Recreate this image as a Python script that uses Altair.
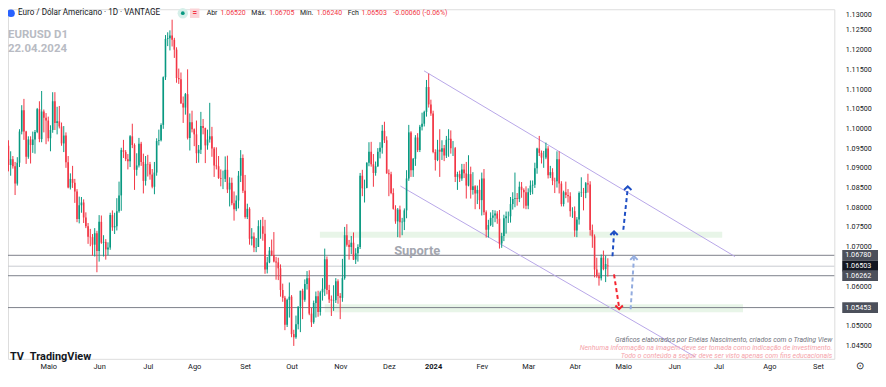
import json
import pandas as pd
import altair as alt

# ---------------- data: daily EURUSD candles (open, high, low, close) ----------------
apr23 = [(1.0839, 1.0917, 1.0788, 1.0903), (1.0903, 1.0973, 1.0896, 1.0956), (1.0956, 1.0970, 1.0891, 1.0907),
         (1.0907, 1.0942, 1.0880, 1.0922), (1.0922, 1.0930, 1.0898, 1.0904), (1.0904, 1.0915, 1.0831, 1.0860),
         (1.0860, 1.0927, 1.0855, 1.0913), (1.0913, 1.0998, 1.0902, 1.0992), (1.0992, 1.1059, 1.0985, 1.1046),
         (1.1046, 1.1075, 1.0971, 1.0992), (1.0992, 1.0994, 1.0910, 1.0928), (1.0928, 1.0980, 1.0923, 1.0972),
         (1.0972, 1.0980, 1.0911, 1.0958), (1.0958, 1.0992, 1.0938, 1.0972), (1.0972, 1.0996, 1.0936, 1.0991),
         (1.0991, 1.1052, 1.0988, 1.1049), (1.1049, 1.1069, 1.0965, 1.0973), (1.0973, 1.1095, 1.0965, 1.1043),
         (1.1043, 1.1048, 1.0990, 1.1027), (1.1027, 1.1039, 1.0960, 1.1020)]
may23 = [(1.1020, 1.1030, 1.0967, 1.0975), (1.0975, 1.1008, 1.0942, 1.0996), (1.0996, 1.1092, 1.0989, 1.1069),
         (1.1069, 1.1092, 1.0996, 1.1014), (1.1014, 1.1055, 1.0985, 1.1018), (1.1018, 1.1057, 1.1000, 1.1005),
         (1.1005, 1.1015, 1.0956, 1.0962), (1.0962, 1.1006, 1.0940, 1.0982), (1.0982, 1.0990, 1.0900, 1.0914),
         (1.0914, 1.0930, 1.0848, 1.0850), (1.0850, 1.0886, 1.0845, 1.0872), (1.0872, 1.0905, 1.0849, 1.0862),
         (1.0862, 1.0872, 1.0811, 1.0840), (1.0840, 1.0846, 1.0762, 1.0770), (1.0770, 1.0827, 1.0759, 1.0805),
         (1.0805, 1.0826, 1.0786, 1.0812), (1.0812, 1.0820, 1.0760, 1.0774), (1.0774, 1.0787, 1.0747, 1.0752),
         (1.0752, 1.0760, 1.0707, 1.0725), (1.0725, 1.0745, 1.0701, 1.0724), (1.0724, 1.0732, 1.0677, 1.0705),
         (1.0705, 1.0747, 1.0675, 1.0734), (1.0734, 1.0740, 1.0635, 1.0689)]
jun23 = [(1.0689, 1.0780, 1.0662, 1.0763), (1.0763, 1.0779, 1.0707, 1.0710), (1.0710, 1.0729, 1.0675, 1.0712),
         (1.0712, 1.0719, 1.0667, 1.0693), (1.0693, 1.0711, 1.0678, 1.0698), (1.0698, 1.0786, 1.0692, 1.0780),
         (1.0780, 1.0792, 1.0740, 1.0749), (1.0749, 1.0786, 1.0732, 1.0752), (1.0752, 1.0823, 1.0741, 1.0790),
         (1.0790, 1.0865, 1.0786, 1.0830), (1.0830, 1.0951, 1.0791, 1.0945), (1.0945, 1.0971, 1.0925, 1.0940),
         (1.0940, 1.0945, 1.0917, 1.0922), (1.0922, 1.0935, 1.0896, 1.0917), (1.0917, 1.0983, 1.0902, 1.0980),
         (1.0980, 1.1012, 1.0950, 1.0958), (1.0958, 1.0962, 1.0844, 1.0895), (1.0895, 1.0937, 1.0880, 1.0906),
         (1.0906, 1.0976, 1.0901, 1.0961), (1.0961, 1.0966, 1.0905, 1.0915), (1.0915, 1.0936, 1.0835, 1.0867),
         (1.0867, 1.0930, 1.0855, 1.0910)]
jul23 = [(1.0910, 1.0933, 1.0878, 1.0909), (1.0909, 1.0915, 1.0870, 1.0883), (1.0883, 1.0897, 1.0848, 1.0852),
         (1.0852, 1.0915, 1.0833, 1.0888), (1.0888, 1.0975, 1.0880, 1.0968), (1.0968, 1.0997, 1.0957, 1.0970),
         (1.0970, 1.1013, 1.0967, 1.1009), (1.1009, 1.1132, 1.0999, 1.1130), (1.1130, 1.1237, 1.1123, 1.1227),
         (1.1227, 1.1244, 1.1209, 1.1229), (1.1229, 1.1249, 1.1198, 1.1236), (1.1236, 1.1276, 1.1208, 1.1225),
         (1.1225, 1.1230, 1.1179, 1.1200), (1.1200, 1.1206, 1.1116, 1.1128), (1.1128, 1.1152, 1.1113, 1.1125),
         (1.1125, 1.1142, 1.1062, 1.1064), (1.1064, 1.1081, 1.1014, 1.1053), (1.1053, 1.1090, 1.1035, 1.1087),
         (1.1087, 1.1150, 1.0972, 1.0976), (1.0976, 1.1038, 1.0944, 1.1016), (1.1016, 1.1045, 1.0990, 1.0998)]
aug23 = [(1.0998, 1.1000, 1.0955, 1.0985), (1.0985, 1.1020, 1.0912, 1.0937), (1.0937, 1.0958, 1.0913, 1.0946),
         (1.0946, 1.1042, 1.0935, 1.1006), (1.1006, 1.1024, 1.0985, 1.1001), (1.1001, 1.1002, 1.0912, 1.0957),
         (1.0957, 1.0997, 1.0946, 1.0972), (1.0972, 1.1065, 1.0964, 1.0980), (1.0980, 1.1004, 1.0928, 1.0949),
         (1.0949, 1.0953, 1.0877, 1.0906), (1.0906, 1.0952, 1.0896, 1.0904), (1.0904, 1.0930, 1.0872, 1.0874),
         (1.0874, 1.0896, 1.0853, 1.0872), (1.0872, 1.0893, 1.0846, 1.0872), (1.0872, 1.0929, 1.0864, 1.0895),
         (1.0895, 1.0931, 1.0836, 1.0845), (1.0845, 1.0876, 1.0802, 1.0862), (1.0862, 1.0875, 1.0805, 1.0810),
         (1.0810, 1.0840, 1.0766, 1.0795), (1.0795, 1.0830, 1.0790, 1.0817), (1.0817, 1.0892, 1.0797, 1.0880),
         (1.0880, 1.0945, 1.0864, 1.0925), (1.0925, 1.0934, 1.0836, 1.0842)]
sep23 = [(1.0842, 1.0882, 1.0771, 1.0775), (1.0775, 1.0809, 1.0770, 1.0796), (1.0796, 1.0800, 1.0705, 1.0720),
         (1.0720, 1.0747, 1.0703, 1.0726), (1.0726, 1.0736, 1.0686, 1.0698), (1.0698, 1.0722, 1.0686, 1.0699),
         (1.0699, 1.0767, 1.0699, 1.0752), (1.0752, 1.0768, 1.0720, 1.0752), (1.0752, 1.0775, 1.0715, 1.0733),
         (1.0733, 1.0768, 1.0631, 1.0642), (1.0642, 1.0674, 1.0632, 1.0660), (1.0660, 1.0699, 1.0658, 1.0690),
         (1.0690, 1.0718, 1.0676, 1.0679), (1.0679, 1.0737, 1.0660, 1.0662), (1.0662, 1.0674, 1.0616, 1.0660),
         (1.0660, 1.0672, 1.0615, 1.0645), (1.0645, 1.0655, 1.0573, 1.0590), (1.0590, 1.0606, 1.0560, 1.0570),
         (1.0570, 1.0575, 1.0488, 1.0502), (1.0502, 1.0568, 1.0496, 1.0565), (1.0565, 1.0609, 1.0520, 1.0573)]
oct23 = [(1.0573, 1.0577, 1.0470, 1.0478), (1.0478, 1.0489, 1.0448, 1.0470), (1.0470, 1.0525, 1.0466, 1.0503),
         (1.0503, 1.0548, 1.0490, 1.0548), (1.0548, 1.0588, 1.0483, 1.0588), (1.0588, 1.0593, 1.0516, 1.0565),
         (1.0565, 1.0617, 1.0560, 1.0605), (1.0605, 1.0638, 1.0591, 1.0620), (1.0620, 1.0640, 1.0526, 1.0530),
         (1.0530, 1.0545, 1.0496, 1.0508), (1.0508, 1.0563, 1.0504, 1.0557), (1.0557, 1.0586, 1.0520, 1.0574),
         (1.0574, 1.0588, 1.0522, 1.0534), (1.0534, 1.0588, 1.0525, 1.0584), (1.0584, 1.0620, 1.0563, 1.0593),
         (1.0593, 1.0695, 1.0575, 1.0668), (1.0668, 1.0675, 1.0579, 1.0590), (1.0590, 1.0603, 1.0557, 1.0566),
         (1.0566, 1.0576, 1.0524, 1.0563), (1.0563, 1.0602, 1.0537, 1.0564), (1.0564, 1.0620, 1.0557, 1.0612),
         (1.0612, 1.0617, 1.0555, 1.0575)]
nov23 = [(1.0575, 1.0582, 1.0516, 1.0570), (1.0570, 1.0669, 1.0560, 1.0620), (1.0620, 1.0750, 1.0616, 1.0729),
         (1.0729, 1.0757, 1.0700, 1.0705), (1.0705, 1.0717, 1.0667, 1.0699), (1.0699, 1.0727, 1.0681, 1.0710),
         (1.0710, 1.0736, 1.0666, 1.0667), (1.0667, 1.0696, 1.0656, 1.0683), (1.0683, 1.0706, 1.0662, 1.0699),
         (1.0699, 1.0887, 1.0694, 1.0880), (1.0880, 1.0895, 1.0828, 1.0848), (1.0848, 1.0870, 1.0812, 1.0849),
         (1.0849, 1.0914, 1.0848, 1.0913), (1.0913, 1.0965, 1.0904, 1.0941), (1.0941, 1.0966, 1.0903, 1.0909),
         (1.0909, 1.0935, 1.0852, 1.0887), (1.0887, 1.0916, 1.0880, 1.0904), (1.0904, 1.0950, 1.0902, 1.0941),
         (1.0941, 1.0965, 1.0924, 1.0951), (1.0951, 1.1009, 1.0936, 1.0994), (1.0994, 1.1017, 1.0963, 1.0970),
         (1.0970, 1.0980, 1.0885, 1.0886)]
dec23 = [(1.0886, 1.0896, 1.0828, 1.0884), (1.0884, 1.0890, 1.0833, 1.0836), (1.0836, 1.0848, 1.0794, 1.0796),
         (1.0796, 1.0805, 1.0758, 1.0764), (1.0764, 1.0798, 1.0724, 1.0794), (1.0794, 1.0804, 1.0723, 1.0762),
         (1.0762, 1.0773, 1.0729, 1.0763), (1.0763, 1.0797, 1.0742, 1.0792), (1.0792, 1.0894, 1.0772, 1.0873),
         (1.0873, 1.1009, 1.0867, 1.0990), (1.0990, 1.0993, 1.0877, 1.0894), (1.0894, 1.0925, 1.0877, 1.0923),
         (1.0923, 1.0983, 1.0905, 1.0977), (1.0977, 1.0988, 1.0940, 1.0945), (1.0945, 1.1009, 1.0940, 1.1004),
         (1.1004, 1.1040, 1.0995, 1.1012), (1.1012, 1.1045, 1.1005, 1.1042), (1.1042, 1.1123, 1.1030, 1.1105),
         (1.1105, 1.1139, 1.1053, 1.1061), (1.1061, 1.1073, 1.1032, 1.1038)]
jan24 = [(1.1038, 1.1045, 1.0937, 1.0940), (1.0940, 1.0947, 1.0893, 1.0920), (1.0920, 1.0971, 1.0917, 1.0946),
         (1.0946, 1.0998, 1.0877, 1.0941), (1.0941, 1.0970, 1.0920, 1.0950), (1.0950, 1.0958, 1.0917, 1.0931),
         (1.0931, 1.0981, 1.0925, 1.0971), (1.0971, 1.0998, 1.0928, 1.0974), (1.0974, 1.0995, 1.0936, 1.0950),
         (1.0950, 1.0968, 1.0930, 1.0950), (1.0950, 1.0953, 1.0864, 1.0877), (1.0877, 1.0890, 1.0844, 1.0884),
         (1.0884, 1.0893, 1.0864, 1.0873), (1.0873, 1.0910, 1.0867, 1.0896), (1.0896, 1.0910, 1.0874, 1.0886),
         (1.0886, 1.0915, 1.0822, 1.0855), (1.0855, 1.0932, 1.0853, 1.0884), (1.0884, 1.0903, 1.0822, 1.0844),
         (1.0844, 1.0889, 1.0832, 1.0853), (1.0853, 1.0856, 1.0795, 1.0835), (1.0835, 1.0855, 1.0808, 1.0844),
         (1.0844, 1.0870, 1.0795, 1.0818)]
feb24 = [(1.0818, 1.0888, 1.0779, 1.0873), (1.0873, 1.0897, 1.0780, 1.0787), (1.0787, 1.0792, 1.0723, 1.0743),
         (1.0743, 1.0768, 1.0723, 1.0755), (1.0755, 1.0787, 1.0752, 1.0773), (1.0773, 1.0793, 1.0750, 1.0779),
         (1.0779, 1.0792, 1.0762, 1.0784), (1.0784, 1.0790, 1.0758, 1.0771), (1.0771, 1.0793, 1.0695, 1.0708),
         (1.0708, 1.0735, 1.0697, 1.0727), (1.0727, 1.0781, 1.0714, 1.0772), (1.0772, 1.0789, 1.0733, 1.0777),
         (1.0777, 1.0789, 1.0760, 1.0777), (1.0777, 1.0826, 1.0761, 1.0808), (1.0808, 1.0838, 1.0794, 1.0821),
         (1.0821, 1.0888, 1.0800, 1.0823), (1.0823, 1.0836, 1.0804, 1.0821), (1.0821, 1.0865, 1.0813, 1.0852),
         (1.0852, 1.0864, 1.0824, 1.0844), (1.0844, 1.0848, 1.0797, 1.0838), (1.0838, 1.0853, 1.0795, 1.0804)]
mar24 = [(1.0804, 1.0848, 1.0795, 1.0838), (1.0838, 1.0868, 1.0831, 1.0855), (1.0855, 1.0868, 1.0833, 1.0857),
         (1.0857, 1.0913, 1.0849, 1.0899), (1.0899, 1.0951, 1.0885, 1.0949), (1.0949, 1.0981, 1.0930, 1.0938),
         (1.0938, 1.0944, 1.0911, 1.0926), (1.0926, 1.0943, 1.0900, 1.0926), (1.0926, 1.0964, 1.0922, 1.0949),
         (1.0949, 1.0955, 1.0873, 1.0881), (1.0881, 1.0905, 1.0874, 1.0889), (1.0889, 1.0899, 1.0856, 1.0867),
         (1.0867, 1.0875, 1.0836, 1.0866), (1.0866, 1.0942, 1.0850, 1.0922), (1.0922, 1.0942, 1.0835, 1.0860),
         (1.0860, 1.0866, 1.0802, 1.0808), (1.0808, 1.0842, 1.0802, 1.0838), (1.0838, 1.0865, 1.0823, 1.0831),
         (1.0831, 1.0846, 1.0812, 1.0828), (1.0828, 1.0838, 1.0776, 1.0790), (1.0790, 1.0800, 1.0773, 1.0790)]
apr24 = [(1.0790, 1.0802, 1.0725, 1.0741), (1.0741, 1.0775, 1.0724, 1.0769), (1.0769, 1.0840, 1.0756, 1.0836),
         (1.0836, 1.0876, 1.0826, 1.0837), (1.0837, 1.0849, 1.0792, 1.0836), (1.0836, 1.0864, 1.0823, 1.0861),
         (1.0861, 1.0885, 1.0837, 1.0858), (1.0858, 1.0866, 1.0728, 1.0742), (1.0742, 1.0756, 1.0697, 1.0726),
         (1.0726, 1.0731, 1.0622, 1.0642), (1.0642, 1.0672, 1.0621, 1.0625), (1.0625, 1.0634, 1.0601, 1.0620),
         (1.0620, 1.0680, 1.0614, 1.0672), (1.0672, 1.0690, 1.0640, 1.0643), (1.0643, 1.0677, 1.0610, 1.0656),
         (1.06520, 1.06705, 1.06240, 1.06503)]
ohlc_months = [apr23, may23, jun23, jul23, aug23, sep23, oct23, nov23, dec23, jan24, feb24, mar24, apr24]

month_names = ["Jan", "Fev", "Mar", "Abr", "Maio", "Jun", "Jul", "Ago", "Set", "Out", "Nov", "Dez"]
closed_days = ["2023-12-25", "2024-01-01"]

# horizontal price levels and their axis tags
level_prices = [1.06780, 1.06503, 1.06262, 1.05453]
# drawings (bar index, price)
zone_i0 = [142.8, 145.0]
zone_i1 = [324.7, 334.1]
zone_lo = [1.07227, 1.05337]
zone_hi = [1.07379, 1.05538]
channel_i0 = [189.9, 179.2]
channel_p0 = [1.11462, 1.08538]
channel_i1 = [330.5, 312.5]
channel_p1 = [1.06748, 1.04202]
arrow_i0 = [275.1, 280.0, 275.8, 283.3]
arrow_p0 = [1.06756, 1.07429, 1.06295, 1.05412]
arrow_i1 = [275.8, 282.0, 278.1, 284.8]
arrow_p1 = [1.07346, 1.08488, 1.05455, 1.06716]
support_label = ("Suporte", 186.8, 1.0690)
y_tick_values = [1.045, 1.05, 1.06, 1.07, 1.075, 1.08, 1.085, 1.09, 1.095, 1.10,
                 1.105, 1.11, 1.115, 1.12, 1.125, 1.13]

# ---------------- styles / layout ----------------
W, H = 832, 352
UP, DOWN = "#089981", "#F23645"
FONT = "Roboto"
arrow_colors = ["#1d4ec4", "#1d4ec4", "#f5222d", "#93acdf"]
arrow_angles = [0, 0, 180, 0]
level_colors = ["#7d808a", "#c9cbd1", "#7d808a", "#7d808a"]
tag_colors = ["#4c505b", "#131722", "#4c505b", "#4c505b"]

rows = [r for m in ohlc_months for r in m]
df = pd.DataFrame(rows, columns=["o", "h", "l", "c"])
df["i"] = range(len(df))

days = pd.bdate_range("2023-04-03", "2024-09-30")
days = days[~days.isin(pd.to_datetime(closed_days))]
tick_idx, tick_txt, prev = [], [], None
for k, d in enumerate(days):
    if d.month != prev:
        tick_idx.append(k)
        tick_txt.append(str(d.year) if d.month == 1 else month_names[d.month - 1])
        prev = d.month
i2024 = tick_idx[tick_txt.index("2024")]

x_scale = alt.Scale(domain=[1.796, 375.39], nice=False, zero=False)
y_scale = alt.Scale(domain=[1.04152, 1.130252], nice=False, zero=False)
x_axis = alt.Axis(values=tick_idx,
                  labelExpr=f"{json.dumps(tick_txt)}[indexof({json.dumps(tick_idx)}, datum.value)]",
                  labelFontWeight={"expr": f"datum.value == {i2024} ? 'bold' : 'normal'"},
                  ticks=False, domain=False, grid=False, labelFlush=False, labelOverlap=False,
                  labelFontSize=7.5, labelColor="#131722", labelPadding=4, title=None, labelFont=FONT)
y_axis = alt.Axis(orient="right", values=y_tick_values, format=".5f", ticks=False, domain=False,
                  grid=False, labelFontSize=7.2, labelColor="#131722", labelPadding=11, title=None,
                  labelFont=FONT, labelFlush=False, labelOverlap=False,
                  labelOffset={"expr": "datum.value > 1.1295 ? 4 : 0"})


def X(f):
    return alt.X(f, type="quantitative", scale=x_scale, axis=x_axis)


def Y(f):
    return alt.Y(f, type="quantitative", scale=y_scale, axis=y_axis)


color_dir = alt.Color("dir:N", scale=alt.Scale(domain=["up", "down"], range=[UP, DOWN]), legend=None)

zones = alt.Chart(pd.DataFrame({"i0": zone_i0, "i1": zone_i1, "lo": zone_lo, "hi": zone_hi})).mark_rect(
    color="#4caf50", opacity=0.13).encode(x=X("i0"), x2="i1", y=Y("lo"), y2="hi")

levels = alt.Chart(pd.DataFrame({"p": level_prices, "col": level_colors})).mark_rule(strokeWidth=1).encode(
    y=Y("p"), color=alt.Color("col:N", scale=None))

channels = alt.Chart(pd.DataFrame({"i0": channel_i0, "p0": channel_p0, "i1": channel_i1, "p1": channel_p1})
                     ).mark_rule(color="#b7a6e8", strokeWidth=1).encode(x=X("i0"), x2="i1", y=Y("p0"), y2="p1")

candles = alt.Chart(df).transform_calculate(
    dir="datum.c >= datum.o ? 'up' : 'down'", x1="datum.i - 0.36", x2="datum.i + 0.36")
wicks = candles.mark_rule(strokeWidth=1).encode(x=X("i"), y=Y("l"), y2="h", color=color_dir)
bodies = candles.mark_bar().encode(x=X("x1"), x2="x2", y=Y("o"), y2="c", color=color_dir)

arr_df = pd.DataFrame({"i0": arrow_i0, "p0": arrow_p0, "i1": arrow_i1, "p1": arrow_p1,
                       "col": arrow_colors, "ang": arrow_angles})
arrows = alt.Chart(arr_df).mark_rule(strokeWidth=2, strokeDash=[4, 3]).encode(
    x=X("i0"), x2="i1", y=Y("p0"), y2="p1", color=alt.Color("col:N", scale=None))
heads = alt.Chart(arr_df).mark_point(shape="M-1,0.55L0,-0.45L1,0.55", filled=False, strokeWidth=2,
                                     size=56, opacity=1).encode(
    x=X("i1"), y=Y("p1"), color=alt.Color("col:N", scale=None), angle=alt.Angle("ang:Q", scale=None))

support = alt.Chart(pd.DataFrame({"t": [support_label[0]], "i": [support_label[1]], "p": [support_label[2]]})
                    ).mark_text(font=FONT, fontSize=13, fontWeight="bold", color="#a3a6af").encode(
    x=X("i"), y=Y("p"), text="t:N")

tags_df = pd.DataFrame({"p": level_prices, "bg": tag_colors})
tag_boxes = alt.Chart(tags_df).mark_point(shape="M-1,-0.3L1,-0.3L1,0.3L-1,0.3Z", filled=True, size=1296,
                                          opacity=1, strokeWidth=0).encode(
    x=alt.value(W + 26), y=Y("p"), color=alt.Color("bg:N", scale=None))
tag_text = alt.Chart(tags_df).mark_text(font=FONT, fontSize=7.2, color="white", align="left",
                                        baseline="middle").encode(
    x=alt.value(W + 11), y=Y("p"), text=alt.Text("p:Q", format=".5f"))

one = pd.DataFrame({"a": [0]})


def txt(x, y, t, **kw):
    opts = dict(font=FONT, baseline="middle", align="left")
    opts.update(kw)
    return alt.Chart(one).mark_text(**opts).encode(x=alt.value(x), y=alt.value(y), text=alt.value(t))


def dot(x, y, color, size, shape="circle"):
    return alt.Chart(one).mark_point(shape=shape, filled=True, size=size, color=color, opacity=1).encode(
        x=alt.value(x), y=alt.value(y))


RED = "#f23645"
texts = [
    dot(3, 4, "#2962ff", 60),
    txt(10, 4, "Euro / Dólar Americano · 1D · VANTAGE", fontSize=8.2, color="#131722"),
    dot(176, 4, "#d5efe9", 110),
    dot(176, 4, "#089981", 14),
    dot(188, 4, "#fbd3d7", 90, "square"),
    txt(188, 4, "=", fontSize=8, color=RED, align="center", fontWeight="bold"),
    txt(200, 4, "Abr", fontSize=7, color="#131722"),
    txt(214, 4, "1.06520", fontSize=7, color=RED),
    txt(245, 4, "Máx.", fontSize=7, color="#131722"),
    txt(263, 4, "1.06705", fontSize=7, color=RED),
    txt(294, 4, "Mín.", fontSize=7, color="#131722"),
    txt(311, 4, "1.06240", fontSize=7, color=RED),
    txt(342, 4, "Fch", fontSize=7, color="#131722"),
    txt(356, 4, "1.06503", fontSize=7, color=RED),
    txt(388, 4, "-0.00060 (-0.06%)", fontSize=7, color=RED),
    txt(0, 26, "EURUSD D1", fontSize=11.5, fontWeight="bold", color="#b8bbc3"),
    txt(0, 40, "22.04.2024", fontSize=11.5, fontWeight="bold", color="#b8bbc3"),
    txt(2, 350, "TV", fontSize=11, fontWeight="bold", color="#131722"),
    txt(22, 350, "TradingView", fontSize=11, fontWeight="bold", color="#131722"),
    txt(830, 333, "Gráficos elaborados por Enéias Nascimento, criados com o Trading View",
        fontSize=7, fontStyle="italic", color="#6f727c", align="right"),
    txt(830, 341, "Nenhuma informação na imagem deve ser tomada como indicação de investimento.",
        fontSize=7, fontStyle="italic", color="#f5a3aa", align="right"),
    txt(830, 349, "Todo o conteúdo a seguir deve ser visto apenas com fins educacionais",
        fontSize=7, fontStyle="italic", color="#f5a3aa", align="right"),
    txt(W + 26, 359, "⊙", fontSize=10, color="#131722", align="center"),
]

chart = alt.layer(zones, levels, channels, wicks, bodies, arrows, heads, support,
                  tag_boxes, tag_text, *texts).properties(
    width=W, height=H,
    autosize=alt.AutoSizeParams(type="none"),
    padding={"left": 0, "top": 0, "right": 44, "bottom": 13},
).configure_view(stroke="#e0e3eb", strokeWidth=1).configure(font=FONT, background="white")

chart.save("out.html", embed_options={"renderer": "svg", "actions": False})
